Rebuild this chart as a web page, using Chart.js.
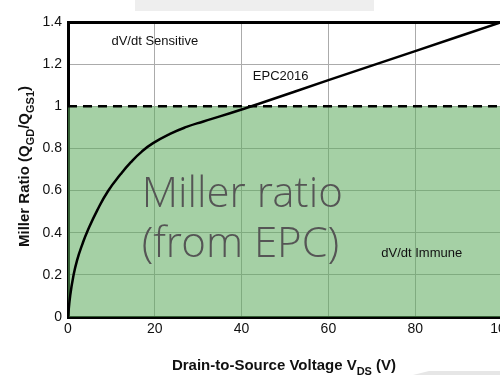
<!DOCTYPE html>
<html>
<head>
<meta charset="utf-8">
<script src="https://cdn.jsdelivr.net/npm/chart.js@4.4.1/dist/chart.umd.min.js"></script>
<style>
  html, body { margin: 0; padding: 0; background: #fff; overflow: hidden; width: 500px; height: 375px; }
  #wrap { position: absolute; left: 0; top: 0; width: 522px; height: 375px; }
  #topbar { position: absolute; left: 135px; top: 0; width: 239px; height: 11px; background: #eeeeee; }
  #corner { position: absolute; left: 413px; top: 371px; width: 100px; height: 4px; background: #e6e6e6;
            clip-path: polygon(0 100%, 16px 0, 100% 0, 100% 100%); }
</style>
</head>
<body>
<div id="wrap"><canvas id="c" width="522" height="375"></canvas></div>
<div id="topbar"></div>
<div id="corner"></div>
<script>
// ---- data ----
const vds = [0, 0.5, 1.2, 2.1, 3.3, 4.5, 6.7, 9.2, 12.1, 14.5, 17, 19.6, 23.5, 27.3, 31.2, 35, 40, 44, 60, 80, 100];
const millerRatio = [0, 0.10, 0.19, 0.27, 0.345, 0.408, 0.505, 0.597, 0.677, 0.735, 0.785, 0.825, 0.869, 0.902, 0.928, 0.952, 0.985, 1.012, 1.124, 1.262, 1.4];
const thresholdX = [0, 100];
const thresholdY = [1, 1];
const xTicks = [0, 20, 40, 60, 80, 100];
const yTicks = [0, 0.2, 0.4, 0.6, 0.8, 1, 1.2, 1.4];
const seriesName = 'EPC2016';
const notes = [
  { text: 'dV/dt Sensitive', x: 20, y: 1.31 },
  { text: 'EPC2016', x: 49, y: 1.143 },
  { text: 'dV/dt Immune', x: 81.5, y: 0.30 }
];
const bigText = [
  { text: 'Miller ratio', x: 17, y: 0.52 },
  { text: '(from EPC)', x: 17, y: 0.285 }
];
const xTitle = [{ t: 'Drain-to-Source Voltage V' }, { t: 'DS', sub: true }, { t: ' (V)' }];
const yTitle = [{ t: 'Miller Ratio (Q' }, { t: 'GD', sub: true }, { t: '/Q' }, { t: 'GS1', sub: true }, { t: ')' }];

const SANS = '"Liberation Sans", Arial, Helvetica, sans-serif';

function drawRich(ctx, parts, size) {
  const subSize = Math.round(size * 0.72);
  let total = 0;
  const widths = parts.map(p => {
    ctx.font = 'bold ' + (p.sub ? subSize : size) + 'px ' + SANS;
    const w = ctx.measureText(p.t).width;
    total += w;
    return w;
  });
  let x = -total / 2;
  parts.forEach((p, i) => {
    ctx.font = 'bold ' + (p.sub ? subSize : size) + 'px ' + SANS;
    ctx.fillText(p.t, x, p.sub ? size * 0.3 : 0);
    x += widths[i];
  });
}

const textPlugin = {
  id: 'texts',
  afterDatasetsDraw(chart) {
    const { ctx, scales: { x, y } } = chart;
    ctx.save();
    ctx.fillStyle = '#555555';
    ctx.font = '300 42px "Open Sans Light", "Open Sans", sans-serif';
    ctx.textAlign = 'left';
    ctx.textBaseline = 'alphabetic';
    bigText.forEach(b => ctx.fillText(b.text, x.getPixelForValue(b.x), y.getPixelForValue(b.y)));
    ctx.fillStyle = '#111';
    ctx.font = '13px ' + SANS;
    ctx.textAlign = 'center';
    ctx.textBaseline = 'middle';
    notes.forEach(n => ctx.fillText(n.text, x.getPixelForValue(n.x), y.getPixelForValue(n.y)));
    ctx.restore();
  },
  afterDraw(chart) {
    const { ctx, chartArea } = chart;
    ctx.save();
    ctx.fillStyle = '#111';
    ctx.textBaseline = 'alphabetic';
    ctx.textAlign = 'left';
    ctx.translate((chartArea.left + chartArea.right) / 2 - 1, 370);
    drawRich(ctx, xTitle, 15);
    ctx.restore();
    ctx.save();
    ctx.fillStyle = '#111';
    ctx.textBaseline = 'alphabetic';
    ctx.textAlign = 'left';
    ctx.translate(29, (chartArea.top + chartArea.bottom) / 2 - 3);
    ctx.rotate(-Math.PI / 2);
    drawRich(ctx, yTitle, 15);
    ctx.restore();
  }
};

new Chart(document.getElementById('c'), {
  type: 'scatter',
  data: {
    datasets: [
      {
        label: 'threshold',
        data: thresholdX.map((v, i) => ({ x: v, y: thresholdY[i] })),
        showLine: true,
        borderColor: '#000',
        borderWidth: 2.5,
        borderDash: [9, 6],
        pointRadius: 0,
        fill: 'origin',
        backgroundColor: 'rgba(95,172,95,0.56)',
        order: 2
      },
      {
        label: seriesName,
        data: vds.map((v, i) => ({ x: v, y: millerRatio[i] })),
        showLine: true,
        borderColor: '#000',
        borderWidth: 2.5,
        pointRadius: 0,
        fill: false,
        tension: 0.5,
        order: 1
      }
    ]
  },
  options: {
    responsive: false,
    animation: false,
    layout: { padding: { left: 0, top: 22, right: 20, bottom: 0 } },
    plugins: { legend: { display: false }, tooltip: { enabled: false } },
    scales: {
      x: {
        type: 'linear',
        min: 0, max: 100,
        afterBuildTicks: s => { s.ticks = xTicks.map(v => ({ value: v })); },
        afterFit: s => { s.height = 58; },
        ticks: { font: { family: SANS, size: 14 }, color: '#111', padding: 4 },
        grid: { color: '#ababab', lineWidth: 1, drawTicks: false },
        border: { display: true, color: '#000', width: 3 }
      },
      y: {
        min: 0, max: 1.4,
        afterBuildTicks: s => { s.ticks = yTicks.map(v => ({ value: v })); },
        afterFit: s => { s.width = 68; },
        ticks: { font: { family: SANS, size: 14 }, color: '#111', padding: 6,
                 callback: v => String(Math.round(v * 10) / 10) },
        grid: {
          color: c => (c.tick && c.tick.value === 1.4) ? '#000' : '#ababab',
          lineWidth: c => (c.tick && c.tick.value === 1.4) ? 3 : 1,
          drawTicks: false
        },
        border: { display: true, color: '#000', width: 3 }
      }
    }
  },
  plugins: [textPlugin]
});
</script>
</body>
</html>
